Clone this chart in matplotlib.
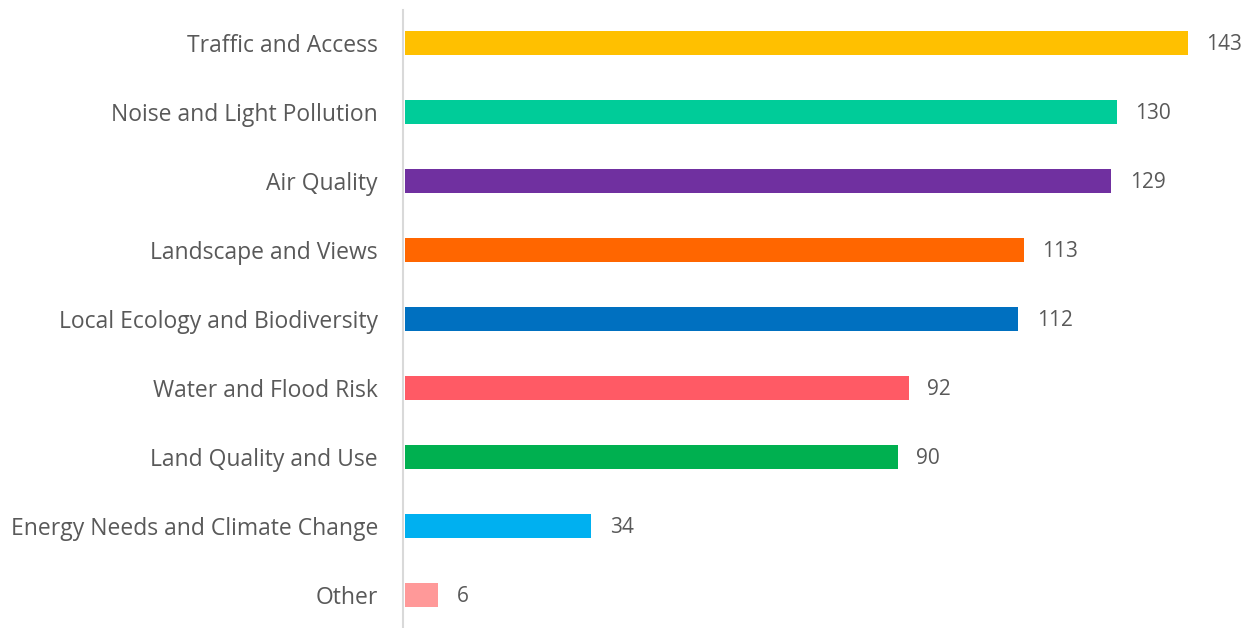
import matplotlib.pyplot as plt

categories = [
    "Traffic and Access",
    "Noise and Light Pollution",
    "Air Quality",
    "Landscape and Views",
    "Local Ecology and Biodiversity",
    "Water and Flood Risk",
    "Land Quality and Use",
    "Energy Needs and Climate Change",
    "Other",
]
counts = [143, 130, 129, 113, 112, 92, 90, 34, 6]
colors = ["#FFC000", "#00CC99", "#7030A0", "#FF6600", "#0070C0",
          "#FF5A65", "#00B050", "#00B0F0", "#FF9999"]

plt.rcParams["font.family"] = ["Open Sans", "DejaVu Sans"]
text_color = "#595959"

fig = plt.figure(figsize=(12.48, 6.28), dpi=100)
ax = fig.add_axes([403 / 1248, 0.0, 1 - 403 / 1248, 1 - 10 / 628])

for side in ["top", "right", "bottom"]:
    ax.spines[side].set_visible(False)
ax.spines["left"].set_position(("data", -0.35))
ax.spines["left"].set_color("#D9D9D9")
ax.spines["left"].set_linewidth(1.5)

pos = list(range(len(categories)))
ax.barh(pos, counts, height=0.35, color=colors)

for y, v in zip(pos, counts):
    ax.text(v + 3.4, y + 0.02, str(v), va="center", ha="left",
            fontsize=15, color=text_color)

ax.set_yticks(pos)
ax.set_yticklabels(categories)
ax.tick_params(axis="y", length=0, pad=18, labelsize=16.5,
               labelcolor=text_color)
ax.set_xticks([])
ax.set_xlim(-0.35, 154)
ax.set_ylim(8.478, -0.478)

fig.savefig("out.png", dpi=100)
